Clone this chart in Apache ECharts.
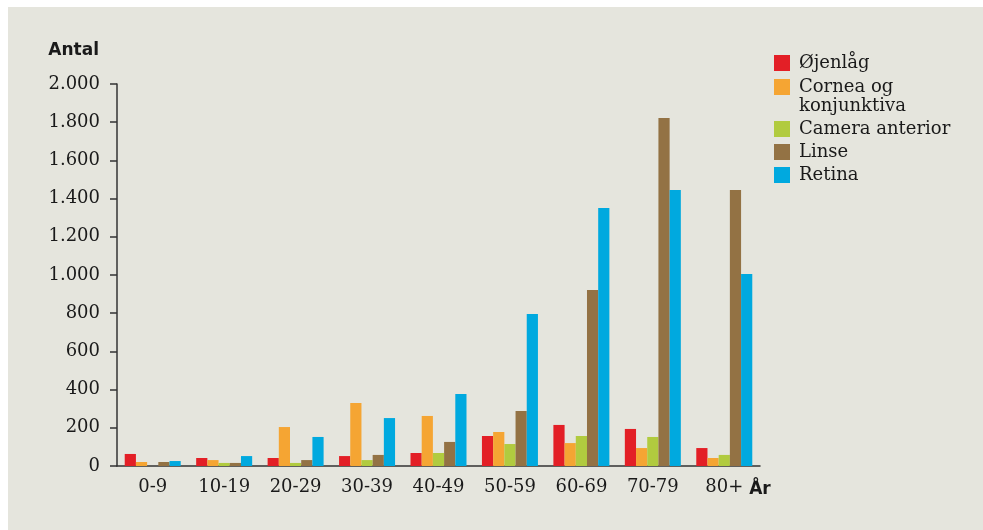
<!DOCTYPE html>
<html>
<head>
<meta charset="utf-8">
<script src="https://cdn.jsdelivr.net/npm/echarts@6/dist/echarts.min.js"></script>
<style>
  html, body { margin: 0; padding: 0; background: #ffffff; }
  #chart { position: absolute; left: 8px; top: 7px; width: 975px; height: 523px; }
</style>
</head>
<body>
<div id="chart"></div>
<script>
// aldersgrupper og antal pr. diagnosegruppe
const categories = ['0-9', '10-19', '20-29', '30-39', '40-49', '50-59', '60-69', '70-79', '80+'];
const ojenlag = [63, 42, 42, 52, 68, 157, 215, 194, 94];
const cornea = [21, 31, 204, 330, 262, 178, 120, 94, 42];
const camera = [0, 16, 16, 31, 68, 115, 157, 152, 58];
const linse = [21, 16, 31, 58, 126, 288, 921, 1822, 1445];
const retina = [26, 52, 152, 251, 377, 796, 1351, 1445, 1005];

document.addEventListener("DOMContentLoaded", function () {
    const chart = echarts.init(document.getElementById('chart'));
    const serif = 'DejaVu Serif';
    const legendText = { fontFamily: serif, fontSize: 18, color: '#1a1a1a', lineHeight: 20, padding: [0, 0, 0, 4] };

    function bar(name, data, color) {
        return {
            name: name,
            type: 'bar',
            data: data,
            barWidth: 11.2,
            barGap: '0%',
            itemStyle: { color: color }
        };
    }

    chart.setOption({
        backgroundColor: '#e5e5dd',
        animation: false,
        grid: { left: 109, right: 223, top: 77, bottom: 64 },
        legend: [
            {
                orient: 'vertical',
                left: 766, top: 46,
                padding: 0,
                itemWidth: 16, itemHeight: 16, itemGap: 4,
                icon: 'rect',
                textStyle: legendText,
                formatter: function (n) { return n === 'Cornea og konjunktiva' ? 'Cornea og' : n; },
                data: ['Øjenlåg', 'Cornea og konjunktiva']
            },
            {
                orient: 'vertical',
                left: 766, top: 112,
                padding: 0,
                itemWidth: 16, itemHeight: 16, itemGap: 3,
                icon: 'rect',
                textStyle: legendText,
                data: ['Camera anterior', 'Linse', 'Retina']
            }
        ],
        graphic: [{
            type: 'text',
            left: 791, top: 90,
            style: { text: 'konjunktiva', fontFamily: serif, fontSize: 18, fill: '#1a1a1a' }
        }],
        xAxis: {
            type: 'category',
            data: categories,
            name: 'År',
            nameLocation: 'end',
            nameGap: -14,
            nameTextStyle: {
                fontFamily: 'DejaVu Sans', fontWeight: 'bold', fontSize: 17, color: '#1a1a1a',
                verticalAlign: 'top', align: 'left', padding: [15, 0, 0, 0]
            },
            axisLine: { lineStyle: { color: '#333', width: 1.5 } },
            axisTick: { length: 7, lineStyle: { color: '#333', width: 1.5 } },
            axisLabel: { fontFamily: serif, fontSize: 18, color: '#1a1a1a', margin: 12 }
        },
        yAxis: {
            type: 'value',
            min: 0, max: 2000, interval: 200,
            name: 'Antal',
            nameLocation: 'end',
            nameGap: 33,
            nameTextStyle: {
                fontFamily: 'DejaVu Sans', fontWeight: 'bold', fontSize: 17, color: '#1a1a1a',
                align: 'right', verticalAlign: 'middle', padding: [0, 18, 0, 0]
            },
            splitLine: { show: false },
            axisLine: { show: true, lineStyle: { color: '#333', width: 1.5 } },
            axisTick: { show: true, length: 7, lineStyle: { color: '#333', width: 1.5 } },
            axisLabel: {
                fontFamily: serif, fontSize: 18, color: '#1a1a1a', margin: 17,
                formatter: function (v) { return String(v).replace(/\B(?=(\d{3})+(?!\d))/g, '.'); }
            }
        },
        series: [
            bar('Øjenlåg', ojenlag, '#e31f26'),
            bar('Cornea og konjunktiva', cornea, '#f5a533'),
            bar('Camera anterior', camera, '#b1cb3f'),
            bar('Linse', linse, '#937244'),
            bar('Retina', retina, '#00a9df')
        ]
    });
});
</script>
</body>
</html>
